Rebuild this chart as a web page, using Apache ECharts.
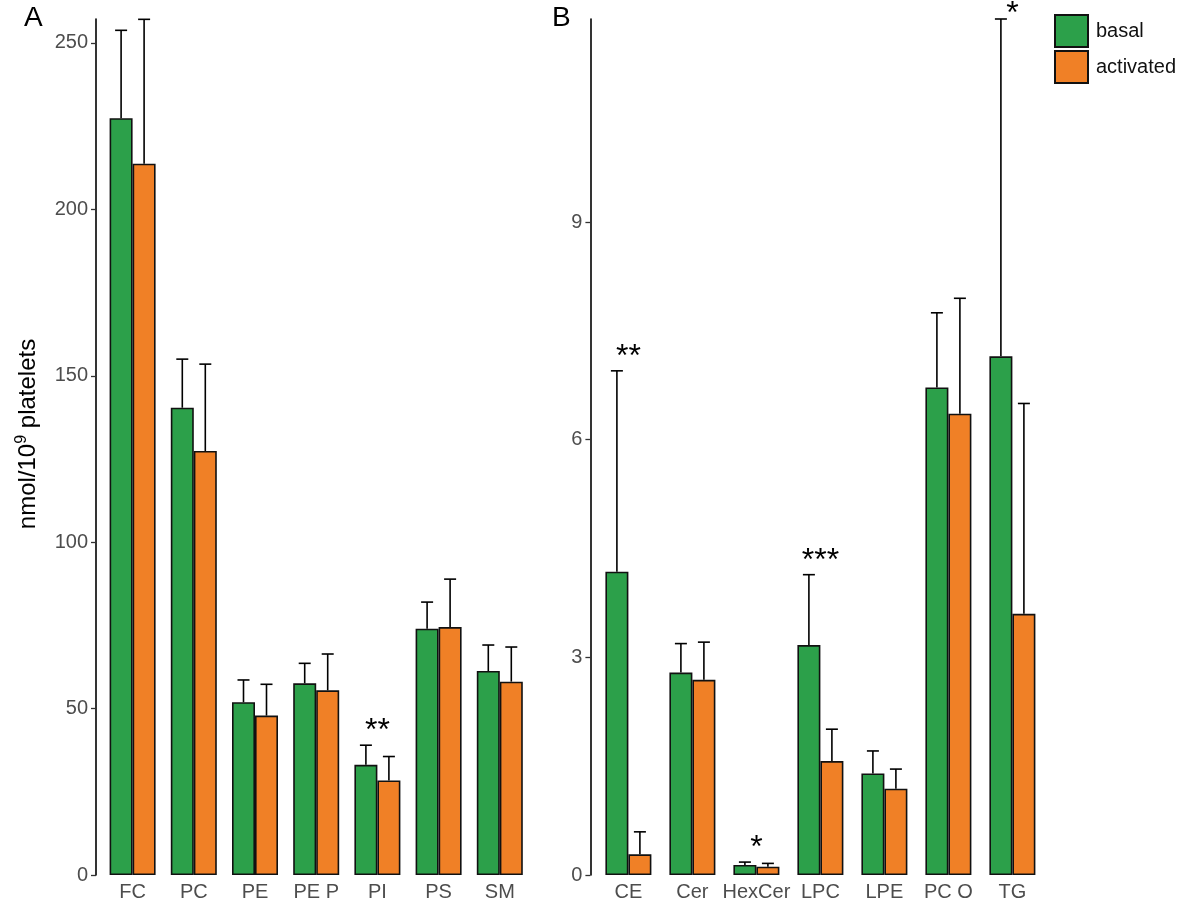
<!DOCTYPE html>
<html>
<head>
<meta charset="utf-8">
<script src="https://cdn.jsdelivr.net/npm/echarts@6/dist/echarts.min.js"></script>
<style>
html,body{margin:0;padding:0;background:#fff;}
#chart{width:1184px;height:905px;}
</style>
</head>
<body>
<div id="chart"></div>
<script>
// ---- Data ----
const catsA = ['FC', 'PC', 'PE', 'PE P', 'PI', 'PS', 'SM'];
const basalA = [227.4, 140.4, 51.9, 57.6, 33.1, 74.0, 61.3];
const basalSdA = [26.4, 14.6, 6.7, 6.0, 5.9, 8.0, 7.8];
const activatedA = [213.7, 127.4, 47.9, 55.5, 28.4, 74.5, 58.1];
const activatedSdA = [43.4, 26.1, 9.4, 10.9, 7.2, 14.4, 10.4];
const starsA = ['', '', '', '', '**', '', ''];
const ticksA = [0, 50, 100, 150, 200, 250];

const catsB = ['CE', 'Cer', 'HexCer', 'LPC', 'LPE', 'PC O', 'TG'];
const basalB = [4.18, 2.79, 0.138, 3.17, 1.40, 6.72, 7.15];
const basalSdB = [2.77, 0.40, 0.04, 0.97, 0.31, 1.03, 4.65];
const activatedB = [0.285, 2.69, 0.115, 1.57, 1.19, 6.36, 3.60];
const activatedSdB = [0.31, 0.52, 0.045, 0.44, 0.27, 1.59, 2.90];
const starsB = ['**', '', '*', '***', '', '', '*'];
const ticksB = [0, 3, 6, 9];

const seriesNames = ['basal', 'activated'];
const GREEN = '#2ca04a';
const ORANGE = '#f08026';
const BAR_W = 23;
const FONT = 'Liberation Sans, Arial, sans-serif';

const chart = echarts.init(document.getElementById('chart'), null, {renderer: 'canvas'});

function errSeries(name, means, sds, xi, yi, side, barW) {
  return {
    type: 'custom',
    name: name + ' error',
    xAxisIndex: xi, yAxisIndex: yi,
    z: 3,
    silent: true,
    renderItem: function (params, api) {
      const i = api.value(0);
      const top = api.coord([i, api.value(1)]);
      const base = api.coord([i, api.value(2)]);
      const x = top[0] + side * barW / 2;
      const cap = 6;
      return {
        type: 'group',
        children: [
          {type: 'line', shape: {x1: x, y1: base[1], x2: x, y2: top[1]}, style: {stroke: '#000', lineWidth: 1.6}},
          {type: 'line', shape: {x1: x - cap, y1: top[1], x2: x + cap, y2: top[1]}, style: {stroke: '#000', lineWidth: 1.6}}
        ]
      };
    },
    data: means.map((m, i) => [i, m + sds[i], m])
  };
}

function starSeries(stars, b, bs, a, as, xi, yi) {
  return {
    type: 'custom',
    name: 'stars',
    xAxisIndex: xi, yAxisIndex: yi,
    z: 4,
    silent: true,
    renderItem: function (params, api) {
      const i = api.value(0);
      const s = stars[i];
      if (!s) return null;
      const p = api.coord([i, api.value(1)]);
      return {
        type: 'text',
        x: p[0], y: Math.max(p[1] + 2, 30),
        style: {text: s, fill: '#000', fontSize: 32, fontFamily: FONT, align: 'center', verticalAlign: 'bottom'}
      };
    },
    data: stars.map((s, i) => [i, Math.max(b[i] + bs[i], a[i] + as[i])])
  };
}

function yAxisCfg(gi, max, ticks) {
  return {
    type: 'value', gridIndex: gi, min: 0, max: max, offset: 6,
    axisLine: {show: true, lineStyle: {color: '#000', width: 1.6}},
    axisTick: {show: true, length: 5, lineStyle: {color: '#333', width: 1.3}, customValues: ticks},
    axisLabel: {customValues: ticks, color: '#4d4d4d', fontSize: 20, fontFamily: FONT, margin: 8},
    splitLine: {show: false}
  };
}

function xAxisCfg(gi, cats) {
  return {
    type: 'category', gridIndex: gi, data: cats,
    axisLine: {show: false}, axisTick: {show: false},
    axisLabel: {color: '#4d4d4d', fontSize: 20, fontFamily: FONT, margin: 7, interval: 0}
  };
}

function barSeries(name, data, color, xi, yi) {
  return {
    type: 'bar', name: name, data: data, xAxisIndex: xi, yAxisIndex: yi,
    barWidth: BAR_W, barGap: '0%', z: 2,
    itemStyle: {color: color, borderColor: '#111', borderWidth: 1.6}
  };
}

const option = {
  backgroundColor: '#fff',
  animation: false,
  legend: {
    data: seriesNames,
    orient: 'vertical',
    left: 1054, top: 14, padding: 0,
    itemWidth: 33, itemHeight: 32, itemGap: 2,
    icon: 'rect',
    textStyle: {fontSize: 20, color: '#111', fontFamily: FONT, padding: [0, 0, 0, 3]},
    selectedMode: false
  },
  graphic: [
    {type: 'text', left: 24, top: 4, style: {text: 'A', fontSize: 28, fill: '#000', fontFamily: FONT}},
    {type: 'text', left: 552, top: 4, style: {text: 'B', fontSize: 28, fill: '#000', fontFamily: FONT}},
    {
      type: 'text', x: 28, y: 434, rotation: Math.PI / 2,
      style: {
        text: '{n|nmol/10}{s|9}{n| platelets}',
        align: 'center', verticalAlign: 'middle',
        rich: {
          n: {fontSize: 24, fill: '#000', fontFamily: FONT},
          s: {fontSize: 16, fill: '#000', fontFamily: FONT, verticalAlign: 'top', padding: [0, 0, 12, 0]}
        }
      }
    }
  ],
  grid: [
    {left: 102, top: 19, width: 428.4, height: 856},
    {left: 596.4, top: 19, width: 448, height: 856}
  ],
  xAxis: [xAxisCfg(0, catsA), xAxisCfg(1, catsB)],
  yAxis: [yAxisCfg(0, 257.2, ticksA), yAxisCfg(1, 11.8, ticksB)],
  series: [
    barSeries('basal', basalA, GREEN, 0, 0),
    barSeries('activated', activatedA, ORANGE, 0, 0),
    barSeries('basal', basalB, GREEN, 1, 1),
    barSeries('activated', activatedB, ORANGE, 1, 1),
    errSeries('basal', basalA, basalSdA, 0, 0, -1, BAR_W),
    errSeries('activated', activatedA, activatedSdA, 0, 0, 1, BAR_W),
    errSeries('basal', basalB, basalSdB, 1, 1, -1, BAR_W),
    errSeries('activated', activatedB, activatedSdB, 1, 1, 1, BAR_W),
    starSeries(starsA, basalA, basalSdA, activatedA, activatedSdA, 0, 0),
    starSeries(starsB, basalB, basalSdB, activatedB, activatedSdB, 1, 1)
  ]
};
chart.setOption(option);
</script>
</body>
</html>
